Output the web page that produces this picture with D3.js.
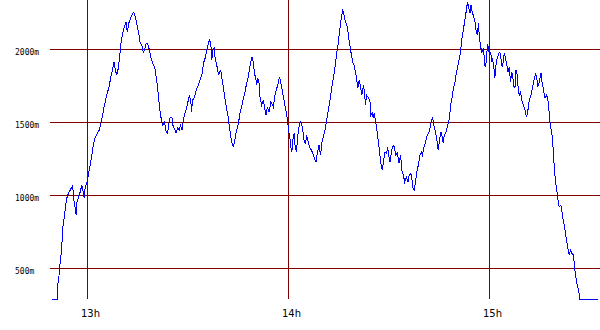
<!DOCTYPE html>
<html>
<head>
<meta charset="utf-8">
<script src="https://cdn.jsdelivr.net/npm/d3@7"></script>
<style>
  html, body { margin: 0; padding: 0; background: #fff; }
  svg { display: block; }
</style>
</head>
<body>
<svg id="chart"></svg>
<script>
// Altitude profile: minutes after 12:00 and altitude in metres
const minutes = [
  49.4, 50.9, 51.0, 51.5, 51.8, 52.3, 52.5, 52.8, 53.1, 53.4, 53.8, 54.3, 54.8, 55.3, 55.6, 55.8,
  56.3, 56.6, 56.8, 57.3, 57.8, 58.3, 58.8, 59.0, 59.3, 59.8, 60.1, 60.4, 60.9, 61.4, 61.7, 62.2,
  62.9, 63.5, 63.9, 64.4, 64.9, 65.4, 65.9, 66.4, 66.9, 67.4, 67.9, 68.2, 68.7, 69.2, 69.7, 70.0,
  70.5, 71.0, 71.5, 71.9, 72.3, 72.7, 73.2, 73.7, 74.0, 74.5, 74.9, 75.3, 75.7, 76.2, 76.7, 77.2,
  77.5, 78.0, 78.5, 79.0, 79.5, 80.1, 80.5, 80.9, 81.3, 81.7, 82.2, 82.5, 83.0, 83.5, 83.9, 84.2,
  84.7, 85.2, 85.5, 85.9, 86.4, 86.9, 87.4, 87.7, 88.2, 88.5, 88.9, 89.4, 89.6, 90.1, 90.4, 90.8,
  91.1, 91.3, 91.8, 92.3, 92.8, 93.3, 93.8, 94.3, 94.6, 95.1, 95.6, 96.1, 96.4, 96.8, 97.1, 97.4,
  97.8, 98.1, 98.6, 99.1, 99.4, 99.8, 100.1, 100.6, 101.0, 101.5, 102.0, 102.3, 102.7, 103.1, 103.5, 104.0,
  104.3, 104.8, 105.2, 105.5, 106.0, 106.5, 107.0, 107.5, 108.0, 108.3, 108.7, 109.1, 109.5, 109.8, 110.3, 110.5,
  110.8, 111.2, 111.5, 112.0, 112.5, 113.0, 113.3, 113.7, 114.2, 114.7, 115.0, 115.5, 115.8, 116.3, 116.8, 117.3,
  117.7, 118.0, 118.5, 119.0, 119.5, 119.8, 120.1, 120.4, 120.7, 121.0, 121.4, 121.7, 122.0, 122.4, 122.7, 123.2,
  123.7, 124.1, 124.4, 124.7, 125.1, 125.4, 125.9, 126.4, 126.9, 127.4, 127.9, 128.2, 128.6, 129.1, 129.6, 129.9,
  130.4, 130.9, 131.4, 131.9, 132.4, 132.9, 133.4, 133.9, 134.4, 134.9, 135.2, 135.6, 135.9, 136.2, 136.5, 136.9,
  137.4, 137.7, 138.0, 138.4, 138.9, 139.2, 139.6, 140.0, 140.4, 140.7, 141.1, 141.4, 141.9, 142.4, 142.7, 143.0,
  143.3, 143.8, 144.3, 144.6, 145.0, 145.3, 145.6, 146.1, 146.5, 146.9, 147.3, 147.6, 148.0, 148.3, 148.8, 149.3,
  149.6, 150.0, 150.3, 150.8, 151.3, 151.6, 152.0, 152.5, 153.0, 153.5, 153.8, 154.3, 154.7, 155.2, 155.7, 156.0,
  156.5, 156.9, 157.2, 157.5, 157.9, 158.4, 158.9, 159.2, 159.7, 160.0, 160.4, 160.9, 161.4, 161.9, 162.4, 162.7,
  163.0, 163.4, 163.9, 164.4, 164.7, 165.2, 165.5, 165.9, 166.2, 166.5, 166.9, 167.4, 167.9, 168.2, 168.5, 168.9,
  169.2, 169.7, 170.0, 170.4, 170.8, 171.2, 171.5, 171.8, 172.2, 172.5, 172.9, 173.2, 173.5, 173.8, 174.2, 174.5,
  174.9, 175.2, 175.7, 176.0, 176.4, 176.7, 177.0, 177.4, 177.7, 178.2, 178.7, 179.0, 179.4, 179.7, 180.0, 180.4,
  180.6, 180.9, 181.3, 181.6, 182.0, 182.4, 182.8, 183.1, 183.4, 183.8, 184.1, 184.4, 184.8, 185.2, 185.5, 185.9,
  186.3, 186.6, 186.9, 187.3, 187.6, 187.9, 188.3, 188.6, 188.9, 189.3, 189.6, 189.9, 190.3, 190.6, 191.1, 191.4,
  191.8, 192.2, 192.6, 193.1, 193.4, 193.8, 194.2, 194.4, 194.8, 195.1, 195.4, 195.7, 196.0, 196.3, 196.6, 197.0,
  197.4, 197.7, 198.0, 198.3, 198.6, 198.9, 199.2, 199.5, 199.8, 200.1, 200.4, 200.8, 201.3, 201.6, 201.9, 202.3,
  202.7, 203.1, 203.4, 203.8, 204.2, 204.6, 205.1, 205.4, 205.8, 206.2, 206.6, 207.0, 212.5
];
const altitude = [
  290, 290, 365, 454, 536, 639, 742, 817, 851, 920, 981, 1016, 1036, 1057, 1071, 981,
  920, 865, 947, 988, 1023, 1071, 1016, 981, 1057, 1084, 1118, 1160, 1221, 1290, 1344, 1392,
  1427, 1447, 1481, 1536, 1605, 1653, 1701, 1742, 1803, 1858, 1913, 1872, 1824, 1872, 1975, 2043,
  2112, 2153, 2187, 2118, 2180, 2201, 2235, 2255, 2248, 2201, 2153, 2112, 2050, 2029, 1975, 2016,
  2043, 2036, 1995, 1940, 1906, 1872, 1810, 1742, 1653, 1564, 1502, 1481, 1502, 1434, 1427, 1481,
  1536, 1536, 1481, 1461, 1427, 1461, 1447, 1481, 1447, 1495, 1550, 1584, 1605, 1653, 1687, 1653,
  1570, 1653, 1666, 1707, 1742, 1769, 1803, 1844, 1906, 1940, 1995, 2043, 2064, 2043, 1927, 1995,
  2009, 1940, 1892, 1824, 1844, 1858, 1803, 1735, 1666, 1598, 1536, 1481, 1413, 1365, 1331, 1379,
  1427, 1468, 1516, 1564, 1605, 1666, 1707, 1769, 1810, 1858, 1913, 1947, 1913, 1844, 1790, 1755,
  1803, 1769, 1673, 1618, 1653, 1584, 1550, 1605, 1570, 1639, 1632, 1605, 1666, 1721, 1755, 1810,
  1776, 1735, 1673, 1605, 1550, 1495, 1434, 1399, 1331, 1297, 1399, 1427, 1331, 1297, 1399, 1481,
  1509, 1468, 1427, 1365, 1358, 1413, 1365, 1324, 1310, 1276, 1242, 1228, 1290, 1344, 1276, 1358,
  1399, 1447, 1516, 1584, 1653, 1735, 1803, 1879, 1975, 2050, 2118, 2187, 2235, 2269, 2248, 2201,
  2166, 2132, 2077, 2016, 1947, 1913, 1892, 1844, 1790, 1735, 1790, 1755, 1687, 1755, 1701, 1618,
  1687, 1673, 1653, 1550, 1564, 1529, 1564, 1495, 1427, 1358, 1276, 1221, 1173, 1221, 1297, 1290,
  1331, 1262, 1228, 1310, 1344, 1331, 1276, 1290, 1221, 1276, 1173, 1139, 1091, 1125, 1091, 1139,
  1153, 1105, 1050, 1036, 1091, 1173, 1221, 1276, 1297, 1276, 1324, 1365, 1413, 1427, 1481, 1516,
  1536, 1481, 1434, 1365, 1310, 1399, 1434, 1399, 1358, 1413, 1427, 1468, 1516, 1570, 1632, 1673,
  1735, 1776, 1824, 1872, 1913, 1961, 2016, 2077, 2132, 2180, 2235, 2290, 2324, 2290, 2248, 2303,
  2248, 2235, 2187, 2132, 2098, 2180, 2077, 2016, 1982, 2009, 1879, 1913, 2029, 2016, 1961, 1982,
  1913, 1940, 1879, 1803, 1906, 1947, 1975, 1982, 1940, 1879, 1913, 1975, 1940, 1892, 1844, 1879,
  1776, 1844, 1824, 1742, 1735, 1858, 1824, 1721, 1687, 1707, 1653, 1639, 1605, 1584, 1536, 1570,
  1639, 1673, 1707, 1769, 1803, 1838, 1790, 1742, 1769, 1803, 1838, 1776, 1742, 1701, 1666, 1687,
  1666, 1598, 1516, 1461, 1434, 1358, 1242, 1153, 1084, 1036, 981, 920, 934, 899, 845, 797,
  742, 680, 639, 591, 625, 605, 591, 509, 440, 386, 351, 290, 290
];
const altTicks = [500, 1000, 1500, 2000];
const hourTicks = [13, 14, 15];

const width = 600;
const height = 330;
const plotLeft = 50, plotRight = 600, plotTop = 0, plotBottom = 300;

const base = new Date(2000, 0, 1, 12, 0, 0).getTime();
const toDate = m => new Date(base + m * 60000);

const svg = d3.select("#chart")
    .attr("width", width)
    .attr("height", height);

const x = d3.scaleTime()
    .domain([toDate(48.8), toDate(213.0)])
    .range([plotLeft, plotRight]);

const y = d3.scaleLinear()
    .domain([284.2, 2339])
    .range([plotBottom, plotTop]);

const grid = "#800000";

// horizontal grid + altitude labels
svg.selectAll("line.hgrid")
    .data(altTicks)
    .enter().append("line")
    .attr("x1", plotLeft).attr("x2", plotRight)
    .attr("y1", d => y(d)).attr("y2", d => y(d))
    .attr("stroke", grid)
    .attr("stroke-width", 1)
    .attr("shape-rendering", "crispEdges");

svg.selectAll("text.ylab")
    .data(altTicks)
    .enter().append("text")
    .attr("x", 15)
    .attr("y", d => y(d) + 6)
    .attr("font-family", "DejaVu Sans Mono, monospace")
    .attr("font-size", 8)
    .attr("fill", "#000")
    .text(d => d + "m");

// vertical grid + hour labels
const hourDate = h => new Date(2000, 0, 1, h, 0, 0);

svg.selectAll("line.vgrid")
    .data(hourTicks)
    .enter().append("line")
    .attr("x1", d => x(hourDate(d))).attr("x2", d => x(hourDate(d)))
    .attr("y1", plotTop).attr("y2", 299)
    .attr("stroke", grid)
    .attr("stroke-width", 1)
    .attr("shape-rendering", "crispEdges");

svg.selectAll("text.xlab")
    .data(hourTicks)
    .enter().append("text")
    .attr("x", d => x(hourDate(d)) + 3)
    .attr("y", 317)
    .attr("text-anchor", "middle")
    .attr("font-family", "DejaVu Sans, sans-serif")
    .attr("font-size", 10)
    .attr("fill", "#000")
    .text(d => d + "h");

// altitude line
const points = minutes.map((m, i) => [toDate(m), altitude[i]]);

svg.append("path")
    .datum(points)
    .attr("fill", "none")
    .attr("stroke", "#0000ff")
    .attr("stroke-width", 1)
    .attr("shape-rendering", "crispEdges")
    .attr("d", d3.line()
        .x(d => x(d[0]))
        .y(d => y(d[1])));
</script>
</body>
</html>
